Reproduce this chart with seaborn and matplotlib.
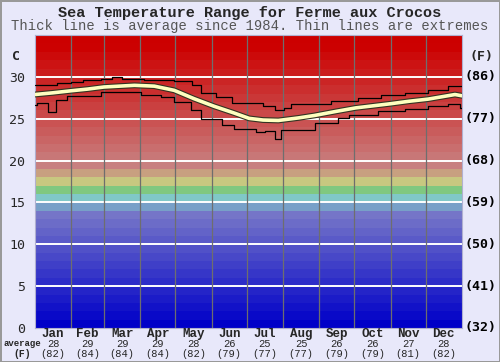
import matplotlib
matplotlib.use("Agg")
import pandas as pd
import matplotlib.pyplot as plt
import matplotlib.transforms as mtransforms
import seaborn as sns

# Monatsdaten
months = ["Jan", "Feb", "Mar", "Apr", "May", "Jun", "Jul", "Aug", "Sep", "Oct", "Nov", "Dec"]
month_start = [0, 31, 59, 90, 120, 151, 181, 212, 243, 273, 304, 334, 365]
avg_c = [28, 29, 29, 29, 28, 26, 25, 25, 26, 26, 27, 28]
avg_f = [82, 84, 84, 84, 82, 79, 77, 77, 79, 79, 81, 82]

# Mittelwert-Kurve (Tag im Jahr, Grad C)
avg_day = [0, 15, 31, 45, 59, 85, 102, 119, 136, 153, 170, 183, 195, 208, 225, 239, 258, 274, 304, 320, 336, 359, 365]
avg_temp = [27.9, 28.1, 28.35, 28.55, 28.8, 29.0, 28.9, 28.4, 27.4, 26.5, 25.7, 25.05, 24.85, 24.8, 25.1, 25.4, 25.9, 26.3, 26.8, 27.1, 27.35, 27.9, 27.75]

# Extremwerte (Stufen, Starttag + Wert)
max_day = [0, 19, 31, 41, 56, 66, 74, 93, 119, 134, 142, 155, 168, 195, 205, 213, 219, 253, 276, 296, 316, 336, 353, 365]
max_temp = [29.0, 29.3, 29.45, 29.6, 29.7, 30.0, 29.7, 29.6, 29.5, 29.0, 28.1, 27.6, 26.9, 26.5, 26.1, 26.3, 26.8, 27.1, 27.5, 27.9, 28.1, 28.5, 28.9, 28.9]
min_day = [0, 2, 11, 18, 27, 56, 91, 108, 119, 133, 142, 160, 170, 189, 197, 205, 210, 239, 259, 268, 287, 293, 316, 336, 353, 363, 365]
min_temp = [26.65, 26.85, 25.8, 27.3, 27.7, 28.15, 27.8, 27.6, 27.05, 26.1, 25.0, 24.3, 23.8, 23.4, 23.5, 22.6, 23.7, 24.5, 25.1, 25.5, 25.4, 25.9, 26.2, 26.5, 26.8, 26.3, 26.3]

c_ticks = [0, 5, 10, 15, 20, 25, 30]
f_ticks = ["(32)", "(41)", "(50)", "(59)", "(68)", "(77)", "(86)"]


def band_color(k):
    """Farbe fuer das 1-Grad-Band ab k Grad."""
    special = {14: (120, 160, 200), 15: (128, 200, 200), 16: (128, 200, 128),
               17: (200, 200, 128), 18: (200, 160, 128)}
    if k in special:
        r, g, b = special[k]
    elif k < 14:
        v = k * 9
        r, g, b = v, v, 200
    else:
        v = max(0, 128 - (k - 19) * 9.1)
        r, g, b = 200 + min(4, (k - 19) * 0.3), v, v
    return (r / 255, g / 255, b / 255)


sns.set_style("white")
plt.rcParams["font.family"] = ["DejaVu Sans Mono", "DejaVu Sans"]

bg = "#e8e8fa"
fig = plt.figure(figsize=(5, 3.62), dpi=100, facecolor=bg)
fig.patch.set_edgecolor("#999999")
fig.patch.set_linewidth(2)
ax = fig.add_axes([0.07, 0.094, 0.854, 0.809])

for k in range(35):
    ax.axhspan(k, k + 1, color=band_color(k), lw=0, zorder=0)

for t in c_ticks[1:]:
    ax.axhline(t, color="white", lw=1.4, zorder=1)
for d in month_start[1:-1]:
    ax.axvline(d, color="#6e6e6e", lw=0.9, zorder=1)

df_avg = pd.DataFrame({"day": avg_day, "temp": avg_temp})
df_max = pd.DataFrame({"day": max_day, "temp": max_temp})
df_min = pd.DataFrame({"day": min_day, "temp": min_temp})

sns.lineplot(data=df_max, x="day", y="temp", ax=ax, color="black", lw=0.9,
             drawstyle="steps-post", estimator=None, zorder=3)
sns.lineplot(data=df_min, x="day", y="temp", ax=ax, color="black", lw=0.9,
             drawstyle="steps-post", estimator=None, zorder=3)
sns.lineplot(data=df_avg, x="day", y="temp", ax=ax, color="#333322", lw=4.2,
             estimator=None, zorder=4)
sns.lineplot(data=df_avg, x="day", y="temp", ax=ax, color="#ffffc0", lw=2.6,
             estimator=None, zorder=5)

ax.set_xlim(0, 365)
ax.set_ylim(0, 35)
ax.set_xlabel("")
ax.set_ylabel("")
ax.set_xticks([])
ax.set_yticks(c_ticks)
ax.set_yticklabels([str(t) for t in c_ticks], fontsize=9.5)
ax.tick_params(axis="y", length=0, pad=7)
for s in ax.spines.values():
    s.set_color("#b0b0d0")
    s.set_linewidth(0.8)

# rechte Fahrenheit-Beschriftung
trans_r = mtransforms.blended_transform_factory(ax.transAxes, ax.transData)
for t, lab in zip(c_ticks, f_ticks):
    ax.text(1.005, t, lab, transform=trans_r, ha="left", va="center",
            fontsize=9.5, fontweight="bold", color="black")

# Monatslabels unten
trans_b = mtransforms.blended_transform_factory(ax.transData, fig.transFigure)
for i, m in enumerate(months):
    mid = (month_start[i] + month_start[i + 1]) / 2
    ax.text(mid, 0.077, m, transform=trans_b, ha="center", va="center",
            fontsize=9, fontweight="bold", family="Liberation Mono")
    ax.text(mid, 0.050, str(avg_c[i]), transform=trans_b, ha="center", va="center",
            fontsize=7.5, family="Liberation Mono")
    ax.text(mid, 0.022, f"({avg_f[i]})", transform=trans_b, ha="center", va="center",
            fontsize=7.5, family="Liberation Mono")

fig.text(0.044, 0.050, "average", ha="center", va="center", fontsize=6.5,
         fontweight="bold", family="Liberation Mono")
fig.text(0.044, 0.022, "(F)", ha="center", va="center", fontsize=7,
         fontweight="bold", family="Liberation Mono")
fig.text(0.032, 0.845, "C", ha="center", va="center", fontsize=9.5, fontweight="bold")
fig.text(0.962, 0.845, "(F)", ha="center", va="center", fontsize=9.5, fontweight="bold")

fig.text(0.5, 0.965, "Sea Temperature Range for Ferme aux Crocos", ha="center", va="center",
         fontsize=11, fontweight="bold", family="Liberation Mono")
fig.text(0.5, 0.928, "Thick line is average since 1984. Thin lines are extremes", ha="center",
         va="center", fontsize=10, color="#555555", family="Liberation Mono")

fig.savefig("out.png", dpi=100, facecolor=bg, edgecolor=fig.patch.get_edgecolor())
